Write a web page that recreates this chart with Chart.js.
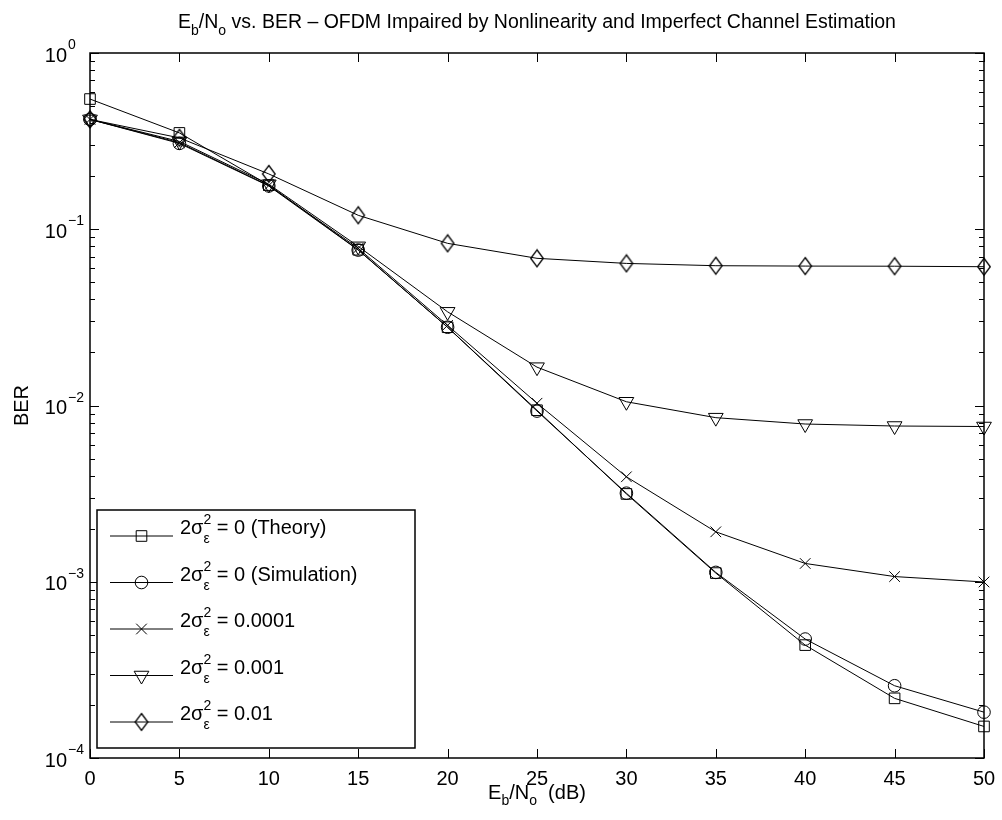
<!DOCTYPE html>
<html>
<head>
<meta charset="utf-8">
<script src="https://cdn.jsdelivr.net/npm/chart.js@4.4.1/dist/chart.umd.min.js"></script>
<style>
  html, body { margin: 0; padding: 0; background: #fff; }
  #wrap { width: 1002px; height: 820px; }
</style>
</head>
<body>
<div id="wrap"><canvas id="c" width="1002" height="820"></canvas></div>
<script>
// ---- data ----
const ebno = [0, 5, 10, 15, 20, 25, 30, 35, 40, 45, 50];
const berTheory = [0.548, 0.352, 0.178, 0.0765, 0.0278, 0.0094, 0.00315, 0.00112, 0.000437, 0.000218, 0.000151];
const berSim = [0.42, 0.307, 0.176, 0.0762, 0.0278, 0.0093, 0.00318, 0.00113, 0.000473, 0.000257, 0.000182];
const berE0001 = [0.42, 0.31, 0.177, 0.078, 0.0285, 0.0103, 0.00394, 0.00192, 0.00127, 0.00107, 0.000997];
const berE001 = [0.42, 0.315, 0.18, 0.080, 0.034, 0.0165, 0.0105, 0.00853, 0.00785, 0.00765, 0.0076];
const berE01 = [0.42, 0.33, 0.206, 0.120, 0.0832, 0.0684, 0.064, 0.0621, 0.0618, 0.0617, 0.0613];
const xTicks = [0, 5, 10, 15, 20, 25, 30, 35, 40, 45, 50];
const yDecades = [0, -1, -2, -3, -4];
const legendValues = ['0 (Theory)', '0 (Simulation)', '0.0001', '0.001', '0.01'];

const FONT = '"Liberation Sans", Arial, Helvetica, sans-serif';

// tall hollow diamond marker (MATLAB style)
function makeDiamond() {
  const c = document.createElement('canvas');
  c.width = 16; c.height = 20;
  const g = c.getContext('2d');
  g.strokeStyle = '#000';
  g.lineWidth = 1.3;
  g.beginPath();
  g.moveTo(8, 1.5); g.lineTo(14.3, 10); g.lineTo(8, 18.5); g.lineTo(1.7, 10); g.closePath();
  g.stroke();
  return c;
}
const diamondImg = makeDiamond();

function mk(label, data, style, radius, rotation) {
  return {
    label: label,
    data: ebno.map((x, i) => ({ x: x, y: data[i] })),
    borderColor: '#000',
    borderWidth: 1,
    backgroundColor: 'rgba(0,0,0,0)',
    pointBackgroundColor: 'rgba(0,0,0,0)',
    pointBorderColor: '#000',
    pointBorderWidth: 1,
    pointStyle: style,
    pointRadius: radius,
    pointRotation: rotation || 0,
    tension: 0,
    clip: false
  };
}

const datasets = [
  mk(legendValues[0], berTheory, 'rect', 7.5, 0),
  mk(legendValues[1], berSim, 'circle', 6.3, 0),
  mk(legendValues[2], berE0001, 'crossRot', 7.5, 0),
  mk(legendValues[3], berE001, 'triangle', 8.5, 180),
  mk(legendValues[4], berE01, diamondImg, 8, 0)
];

function drawRich(ctx, parts, x, y, align) {
  let w = 0;
  parts.forEach(p => {
    ctx.font = (p.s || 20) + 'px ' + FONT;
    if (p.stack) {
      const a = ctx.measureText(p.sup).width, b = ctx.measureText(p.sub).width;
      p._w = Math.max(a, b);
    } else {
      p._w = ctx.measureText(p.t).width;
    }
    w += p._w;
  });
  let cx = align === 'center' ? x - w / 2 : (align === 'right' ? x - w : x);
  ctx.textAlign = 'left';
  ctx.textBaseline = 'alphabetic';
  parts.forEach(p => {
    ctx.font = (p.s || 20) + 'px ' + FONT;
    if (p.stack) {
      ctx.fillText(p.sup, cx, y + p.supDy);
      ctx.fillText(p.sub, cx, y + p.subDy);
    } else {
      ctx.fillText(p.t, cx, y + (p.dy || 0));
    }
    cx += p._w;
  });
  return w;
}

const decor = {
  id: 'decor',
  afterDraw(chart) {
    const ctx = chart.ctx;
    const xs = chart.scales.x, ys = chart.scales.y;
    const a = chart.chartArea;
    ctx.save();
    ctx.fillStyle = '#000';
    ctx.strokeStyle = '#000';

    // ticks (inside, on all four sides)
    ctx.lineWidth = 1;
    ctx.beginPath();
    xTicks.forEach(v => {
      const px = Math.round(xs.getPixelForValue(v)) + 0.5;
      ctx.moveTo(px, a.bottom); ctx.lineTo(px, a.bottom - 9);
      ctx.moveTo(px, a.top); ctx.lineTo(px, a.top + 9);
    });
    yDecades.forEach(d => {
      const py = Math.round(ys.getPixelForValue(Math.pow(10, d))) + 0.5;
      ctx.moveTo(a.left, py); ctx.lineTo(a.left + 9, py);
      ctx.moveTo(a.right, py); ctx.lineTo(a.right - 9, py);
      if (d < 0) {
        for (let k = 2; k <= 9; k++) {
          const pm = Math.round(ys.getPixelForValue(k * Math.pow(10, d))) + 0.5;
          ctx.moveTo(a.left, pm); ctx.lineTo(a.left + 5, pm);
          ctx.moveTo(a.right, pm); ctx.lineTo(a.right - 5, pm);
        }
      }
    });
    ctx.stroke();

    // frame
    ctx.lineWidth = 1.5;
    ctx.strokeRect(a.left, a.top, a.right - a.left, a.bottom - a.top);

    // x tick labels
    ctx.font = '20px ' + FONT;
    ctx.textAlign = 'center';
    ctx.textBaseline = 'alphabetic';
    xTicks.forEach(v => {
      ctx.fillText(String(v), xs.getPixelForValue(v), a.bottom + 27);
    });

    // y tick labels (10 with superscript exponent)
    yDecades.forEach(d => {
      const py = ys.getPixelForValue(Math.pow(10, d));
      ctx.font = '20px ' + FONT;
      ctx.textAlign = 'right';
      ctx.fillText('10', 67, py + 8.5);
      ctx.font = '14px ' + FONT;
      ctx.textAlign = 'left';
      ctx.fillText(d === 0 ? '0' : '\u2212' + Math.abs(d), 68, py - 4);
    });

    // title
    drawRich(ctx, [
      { t: 'E', s: 19.5 }, { t: 'b', s: 14, dy: 7 }, { t: '/N', s: 19.5 }, { t: 'o', s: 14, dy: 7 },
      { t: ' vs. BER \u2013 OFDM Impaired by Nonlinearity and Imperfect Channel Estimation', s: 19.5 }
    ], (a.left + a.right) / 2, 28, 'center');

    // x label
    drawRich(ctx, [
      { t: 'E', s: 20 }, { t: 'b', s: 14, dy: 6 }, { t: '/N', s: 20 }, { t: 'o', s: 14, dy: 6 },
      { t: '  (dB)', s: 20 }
    ], (a.left + a.right) / 2, 799, 'center');

    // y label
    ctx.save();
    ctx.translate(28, (a.top + a.bottom) / 2);
    ctx.rotate(-Math.PI / 2);
    ctx.font = '20px ' + FONT;
    ctx.textAlign = 'center';
    ctx.fillText('BER', 0, 0);
    ctx.restore();

    // legend
    const lx = 97, ly = 510, lw = 318, lh = 238;
    ctx.fillStyle = '#fff';
    ctx.fillRect(lx, ly, lw, lh);
    ctx.lineWidth = 1.5;
    ctx.strokeStyle = '#000';
    ctx.strokeRect(lx, ly, lw, lh);
    ctx.fillStyle = '#000';
    chart.data.datasets.forEach((ds, i) => {
      const ry = 536 + i * 46.5;
      ctx.lineWidth = 1;
      ctx.strokeStyle = '#000';
      ctx.beginPath();
      ctx.moveTo(110, ry); ctx.lineTo(173, ry);
      ctx.stroke();
      if (typeof ds.pointStyle === 'string') {
        ctx.fillStyle = 'rgba(0,0,0,0)';
        Chart.helpers.drawPoint(ctx, {
          pointStyle: ds.pointStyle, radius: ds.pointRadius, rotation: ds.pointRotation, borderWidth: 1
        }, 141.5, ry);
      } else {
        ctx.drawImage(ds.pointStyle, 141.5 - ds.pointStyle.width / 2, ry - ds.pointStyle.height / 2);
      }
      ctx.fillStyle = '#000';
      drawRich(ctx, [
        { t: '2\u03c3', s: 20 },
        { stack: true, sup: '2', sub: '\u03b5', s: 14, supDy: -10, subDy: 9 },
        { t: ' = ' + ds.label, s: 20 }
      ], 180, ry - 2, 'left');
    });
    ctx.restore();
  }
};

new Chart(document.getElementById('c'), {
  type: 'line',
  data: { datasets: datasets },
  plugins: [decor],
  options: {
    responsive: false,
    animation: false,
    devicePixelRatio: 1,
    layout: { padding: { top: 53, right: 18, left: 0, bottom: 0 } },
    plugins: { legend: { display: false }, title: { display: false }, tooltip: { enabled: false } },
    scales: {
      x: {
        type: 'linear', min: 0, max: 50,
        grid: { display: false }, border: { display: false },
        ticks: { display: false },
        afterFit(s) { s.height = 62; }
      },
      y: {
        type: 'logarithmic', min: 1e-4, max: 1,
        grid: { display: false }, border: { display: false },
        ticks: { display: false },
        afterFit(s) { s.width = 90; }
      }
    }
  }
});
</script>
</body>
</html>
